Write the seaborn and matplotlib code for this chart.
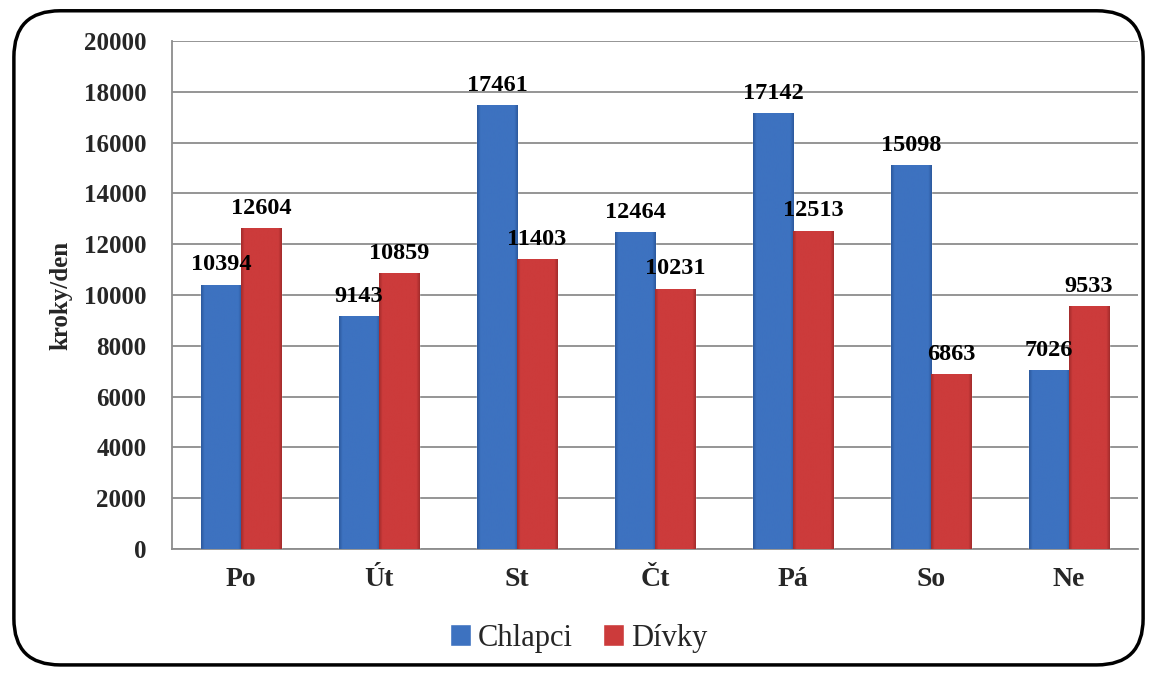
import numpy as np
import pandas as pd
import seaborn as sns
import matplotlib.pyplot as plt
from matplotlib.colors import to_rgb, to_hex
from matplotlib.patches import FancyBboxPatch

days = ['Po', 'Út', 'St', 'Čt', 'Pá', 'So', 'Ne']
chlapci = [10394, 9143, 17461, 12464, 17142, 15098, 7026]
divky = [12604, 10859, 11403, 10231, 12513, 6863, 9533]
groups = ['Chlapci', 'Dívky']

data = pd.DataFrame({
    'den': days * 2,
    'kroky': chlapci + divky,
    'skupina': [groups[0]] * len(days) + [groups[1]] * len(days),
})

sns.set_style('white')
plt.rcParams['font.family'] = ['Liberation Serif', 'DejaVu Serif']

fig = plt.figure(figsize=(11.57, 6.73), dpi=100)
ax = fig.add_axes([0.1487, 0.1842, 0.8349, 0.7548])

# rounded outer frame
frame = FancyBboxPatch((0.012, 0.012), 0.976, 0.972, boxstyle='round,pad=0,rounding_size=0.04',
                       transform=fig.transFigure, facecolor='white', edgecolor='black',
                       linewidth=2.5, mutation_aspect=1157 / 673, zorder=-10)
fig.patches.append(frame)

palette = {'Chlapci': '#3D72C0', 'Dívky': '#CC3B3B'}
sns.barplot(data=data, x='den', y='kroky', hue='skupina', palette=palette,
            width=0.58, saturation=1, ax=ax, zorder=3, legend=True)

# soft horizontal shading on each bar for the bevel look
dark = {'#3d72c0': '#2C5A9E', '#cc3b3b': '#A42C2C'}
for bar in ax.patches:
    if bar.get_height() <= 0:
        continue
    x0, w, h = bar.get_x(), bar.get_width(), bar.get_height()
    base = np.array(to_rgb(bar.get_facecolor()))
    edge = np.array(to_rgb(dark.get(to_hex(bar.get_facecolor()), '#333333')))
    t = np.linspace(0, 1, 60)
    prof = np.clip(np.minimum(t, 1 - t) / 0.08, 0, 1)
    grad = edge[None, :] * (1 - prof[:, None]) + base[None, :] * prof[:, None]
    ax.imshow(grad[None, :, :], extent=(x0, x0 + w, 0, h), aspect='auto', zorder=4,
              interpolation='bilinear')

ax.set_xlim(-0.5, len(days) - 0.5)
ax.set_ylim(0, 20000)
ax.set_yticks(range(0, 20001, 2000))
ax.yaxis.grid(True, color='#8C8C8C', linewidth=1.3, zorder=0)
ax.set_axisbelow(True)

for c in ax.containers:
    ax.bar_label(c, fmt='%d', padding=7, fontsize=17.5, fontweight='bold', color='black', zorder=6)

for s in ['top', 'right']:
    ax.spines[s].set_visible(False)
for s in ['left', 'bottom']:
    ax.spines[s].set_color('#8C8C8C')
    ax.spines[s].set_linewidth(1.3)

ax.set_xticks(np.arange(len(days)))
ax.set_xticklabels(days, fontsize=20, fontweight='bold')
ax.set_xticks(np.arange(len(days) + 1) - 0.5, minor=True)
ax.tick_params(axis='x', which='major', length=0, pad=13)
ax.tick_params(axis='x', which='minor', length=6.5, color='#8C8C8C', width=1.3, direction='out')
ax.tick_params(axis='y', length=6.5, color='#8C8C8C', width=1.3, direction='out', pad=12,
               labelsize=18)
for lbl in ax.get_yticklabels():
    lbl.set_fontweight('bold')

ax.set_xlabel('')
ax.set_ylabel('kroky/den', fontsize=18, fontweight='bold', labelpad=8)

ax.get_legend().remove()
handles, labels = ax.get_legend_handles_labels()
fig.legend(handles[:2], labels[:2], loc='center', bbox_to_anchor=(0.5, 0.052), ncol=2,
           frameon=False, fontsize=22, handlelength=0.7, handleheight=0.7,
           handletextpad=0.2, columnspacing=1.0)

fig.savefig('out.png', dpi=100)
